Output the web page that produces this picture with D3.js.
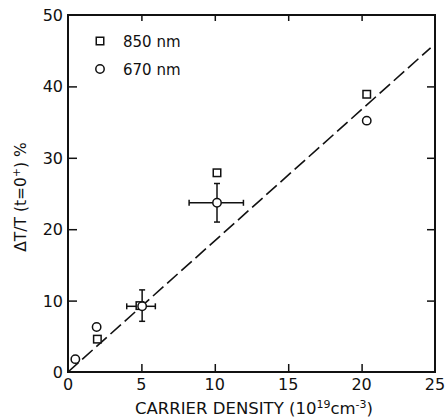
<!DOCTYPE html>
<html>
<head>
<meta charset="UTF-8">
<script src="https://cdn.jsdelivr.net/npm/d3@7"></script>
<style>
  body { margin: 0; background: #fff; }
  svg text { font-family: 'DejaVu Sans', sans-serif; fill: #111; }
</style>
</head>
<body>
<div id="chart"></div>
<script>
// data
const sq850X = [2.0, 4.9, 10.15, 20.35];
const sq850Y = [4.6, 9.3, 27.9, 38.9];
const ci670X = [0.5, 1.95, 5.05, 10.15, 20.35];
const ci670Y = [1.8, 6.3, 9.2, 23.7, 35.2];
// error bars: [x, y, xlo, xhi, ylo, yhi]
const errBars = [
  [5.05, 9.2, 4.0, 5.95, 7.1, 11.5],
  [10.15, 23.7, 8.25, 11.95, 21.0, 26.4]
];
const fitX = [0, 24.7];
const fitY = [0, 45.4];
const xTicks = [0, 5, 10, 15, 20, 25];
const yTicks = [0, 10, 20, 30, 40, 50];

const W = 446, H = 418;
const m = {left: 68, top: 15, right: 11, bottom: 46};
const iw = W - m.left - m.right, ih = H - m.top - m.bottom;

const svg = d3.select("#chart").append("svg")
  .attr("width", W).attr("height", H);
const g = svg.append("g").attr("transform", `translate(${m.left},${m.top})`);

const x = d3.scaleLinear().domain([0, 25]).range([0, iw]);
const y = d3.scaleLinear().domain([0, 50]).range([ih, 0]);

// inward ticks on all four sides
const inner = xTicks.slice(1, -1), innerY = yTicks.slice(1, -1);
g.append("g").attr("transform", `translate(0,${ih})`)
  .call(d3.axisTop(x).tickValues(inner).tickSize(8).tickFormat(""));
g.append("g")
  .call(d3.axisBottom(x).tickValues(inner).tickSize(6).tickFormat(""));
g.append("g")
  .call(d3.axisRight(y).tickValues(innerY).tickSize(9).tickFormat(""));
g.append("g").attr("transform", `translate(${iw},0)`)
  .call(d3.axisLeft(y).tickValues(innerY).tickSize(8).tickFormat(""));
g.selectAll(".domain").remove();
g.selectAll(".tick line").attr("stroke", "#111").attr("stroke-width", 1.5);

// frame
g.append("rect").attr("width", iw).attr("height", ih)
  .attr("fill", "none").attr("stroke", "#111").attr("stroke-width", 2);

// tick labels
g.selectAll(".xl").data(xTicks).enter().append("text")
  .attr("x", d => x(d)).attr("y", ih + 18)
  .attr("text-anchor", "middle").attr("font-size", 16).text(d => d);
g.selectAll(".yl").data(yTicks).enter().append("text")
  .attr("x", -5).attr("y", d => y(d) + 6)
  .attr("text-anchor", "end").attr("font-size", 16).text(d => d);

// axis titles
const xt = svg.append("text").attr("x", 254).attr("y", 414)
  .attr("text-anchor", "middle").attr("font-size", 16.5);
xt.append("tspan").text("CARRIER DENSITY (10");
xt.append("tspan").attr("dy", -6).attr("font-size", 11).text("19");
xt.append("tspan").attr("dy", 6).text("cm");
xt.append("tspan").attr("dy", -6).attr("font-size", 11).text("-3");
xt.append("tspan").attr("dy", 6).text(")");

const yt = svg.append("text").attr("transform", "translate(26,197) rotate(-90)")
  .attr("text-anchor", "middle").attr("font-size", 15.5);
yt.append("tspan").text("ΔT/T  (t=0");
yt.append("tspan").attr("dy", -6).attr("font-size", 11).text("+");
yt.append("tspan").attr("dy", 6).text(") %");

// fit line
const line = d3.line().x(d => x(d[0])).y(d => y(d[1]));
g.append("path").datum(d3.zip(fitX, fitY)).attr("d", line)
  .attr("fill", "none").attr("stroke", "#111").attr("stroke-width", 1.6)
  .attr("stroke-dasharray", "14,5");

// error bars
const cap = 3;
errBars.forEach(e => {
  const eb = g.append("g").attr("stroke", "#111").attr("stroke-width", 1.5);
  eb.append("line").attr("x1", x(e[2])).attr("x2", x(e[3])).attr("y1", y(e[1])).attr("y2", y(e[1]));
  eb.append("line").attr("x1", x(e[0])).attr("x2", x(e[0])).attr("y1", y(e[4])).attr("y2", y(e[5]));
  [e[2], e[3]].forEach(v => eb.append("line").attr("x1", x(v)).attr("x2", x(v))
    .attr("y1", y(e[1]) - cap).attr("y2", y(e[1]) + cap));
  [e[4], e[5]].forEach(v => eb.append("line").attr("x1", x(e[0]) - cap).attr("x2", x(e[0]) + cap)
    .attr("y1", y(v)).attr("y2", y(v)));
});

// markers
const s = 7.5;
g.selectAll(".sq").data(d3.zip(sq850X, sq850Y)).enter().append("rect")
  .attr("x", d => x(d[0]) - s / 2).attr("y", d => y(d[1]) - s / 2)
  .attr("width", s).attr("height", s)
  .attr("fill", "#fff").attr("stroke", "#111").attr("stroke-width", 1.5);
g.selectAll(".ci").data(d3.zip(ci670X, ci670Y)).enter().append("circle")
  .attr("cx", d => x(d[0])).attr("cy", d => y(d[1])).attr("r", 4.2)
  .attr("fill", "#fff").attr("stroke", "#111").attr("stroke-width", 1.5);

// legend
const lg = svg.append("g");
lg.append("rect").attr("x", 100 - s / 2).attr("y", 41 - s / 2).attr("width", s).attr("height", s)
  .attr("fill", "#fff").attr("stroke", "#111").attr("stroke-width", 1.5);
lg.append("circle").attr("cx", 100).attr("cy", 69).attr("r", 4.2)
  .attr("fill", "#fff").attr("stroke", "#111").attr("stroke-width", 1.5);
lg.append("text").attr("x", 123).attr("y", 47).attr("font-size", 15).text("850 nm");
lg.append("text").attr("x", 123).attr("y", 75).attr("font-size", 15).text("670 nm");
</script>
</body>
</html>
